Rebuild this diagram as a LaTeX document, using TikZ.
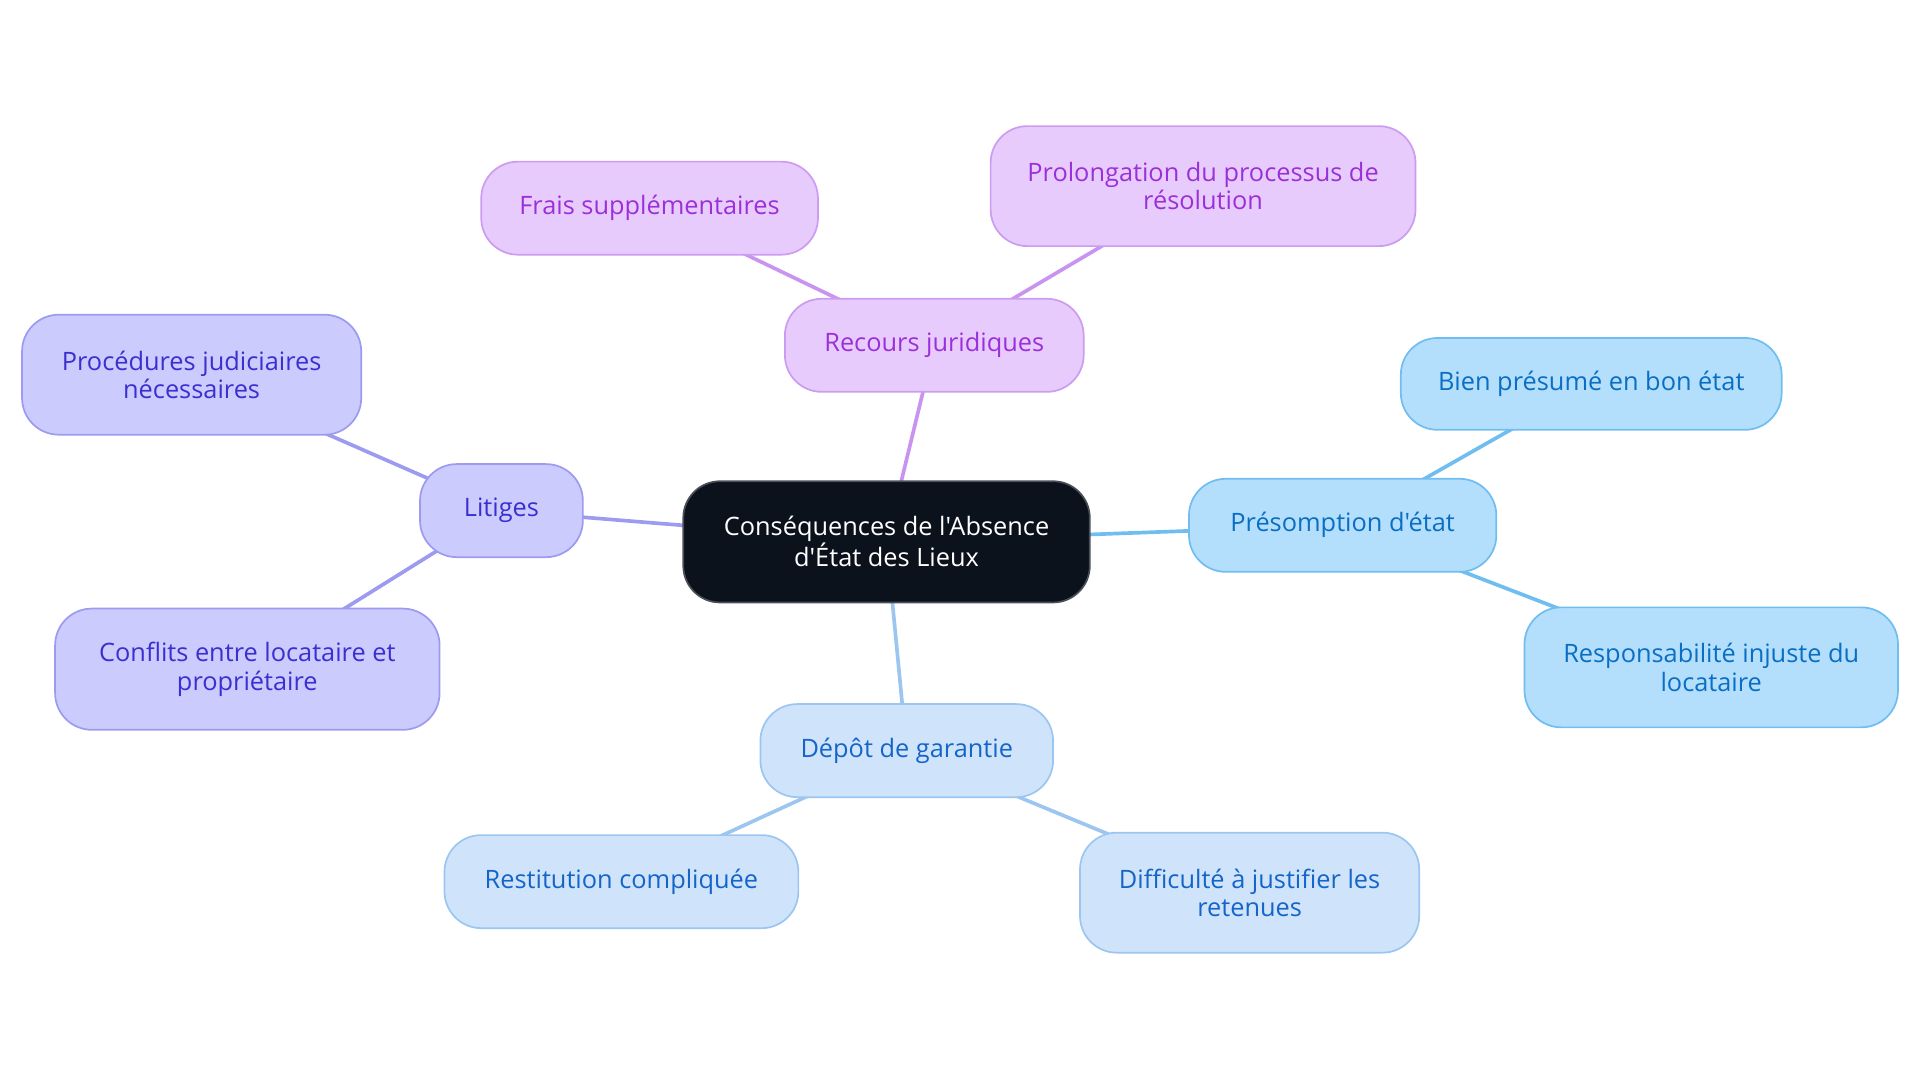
\documentclass[tikz,border=0pt]{standalone}
\usepackage{fontspec}
\setmainfont{Open Sans}[Ligatures=TeXOff]
\usetikzlibrary{backgrounds}
\definecolor{cfill}{HTML}{0C121C}
\definecolor{cdraw}{HTML}{4A4F57}
\definecolor{pfill}{HTML}{E8CBFD}
\definecolor{pdraw}{HTML}{CB9CF0}
\definecolor{ptext}{HTML}{9B30D9}
\definecolor{pedge}{HTML}{C994F0}
\definecolor{ifill}{HTML}{CBCBFD}
\definecolor{idraw}{HTML}{9C9BF0}
\definecolor{itext}{HTML}{3A2FD0}
\definecolor{bfill}{HTML}{B4DFFC}
\definecolor{bdraw}{HTML}{70BDF0}
\definecolor{btext}{HTML}{0A6EC2}
\definecolor{lfill}{HTML}{CFE4FB}
\definecolor{ldraw}{HTML}{9CC6F0}
\definecolor{ltext}{HTML}{1565C8}
\tikzset{
  box/.style={rectangle, rounded corners=30pt, line width=1.4pt, align=center,
    inner sep=0pt, font=\fontsize{20.7}{23.2}\selectfont},
  central/.style={box, fill=cfill, draw=cdraw, text=white},
  pbox/.style={box, fill=pfill, draw=pdraw, text=ptext},
  ibox/.style={box, fill=ifill, draw=idraw, text=itext},
  bbox/.style={box, fill=bfill, draw=bdraw, text=btext},
  lbox/.style={box, fill=lfill, draw=ldraw, text=ltext},
  link/.style={line width=3pt},
}
\begin{document}
\begin{tikzpicture}[x=1pt,y=-1pt]
\useasboundingbox (0,0) rectangle (1568,884.3);
\node[central, minimum width=332pt, minimum height=99pt] (c) at (724,442.5) {Conséquences de l'Absence\\d'État des Lieux};
\node[pbox, minimum width=244pt, minimum height=76pt] (rj) at (763,282) {Recours juridiques};
\node[pbox, minimum width=275pt, minimum height=76pt] (fs) at (530.5,170) {Frais supplémentaires};
\node[pbox, minimum width=347pt, minimum height=98pt] (pp) at (982.5,152) {Prolongation du processus de\\résolution};
\node[ibox, minimum width=133pt, minimum height=76pt] (li) at (409.5,417) {Litiges};
\node[ibox, minimum width=277pt, minimum height=98pt] (pj) at (156.5,306) {Procédures judiciaires\\nécessaires};
\node[ibox, minimum width=314pt, minimum height=99pt] (cl) at (202,546.5) {Conflits entre locataire et\\propriétaire};
\node[bbox, minimum width=251pt, minimum height=76pt] (pe) at (1096.5,429) {Présomption d'état};
\node[bbox, minimum width=311pt, minimum height=75pt] (bp) at (1299.5,313.5) {Bien présumé en bon état};
\node[bbox, minimum width=305pt, minimum height=98pt] (rl) at (1397.5,545) {Responsabilité injuste du\\locataire};
\node[lbox, minimum width=239pt, minimum height=76pt] (dg) at (740.5,613) {Dépôt de garantie};
\node[lbox, minimum width=289pt, minimum height=76pt] (rc) at (507.5,720) {Restitution compliquée};
\node[lbox, minimum width=277pt, minimum height=98pt] (dj) at (1020.5,729) {Difficulté à justifier les\\retenues};
\begin{scope}[on background layer]
\draw[link, pedge] (c.center) -- (rj.center);
\draw[link, pedge] (rj.center) -- (fs.center);
\draw[link, pedge] (rj.center) -- (pp.center);
\draw[link, idraw] (c.center) -- (li.center);
\draw[link, idraw] (li.center) -- (pj.center);
\draw[link, idraw] (li.center) -- (cl.center);
\draw[link, bdraw] (c.center) -- (pe.center);
\draw[link, bdraw] (pe.center) -- (bp.center);
\draw[link, bdraw] (pe.center) -- (rl.center);
\draw[link, ldraw] (c.center) -- (dg.center);
\draw[link, ldraw] (dg.center) -- (rc.center);
\draw[link, ldraw] (dg.center) -- (dj.center);
\end{scope}
\end{tikzpicture}
\end{document}
